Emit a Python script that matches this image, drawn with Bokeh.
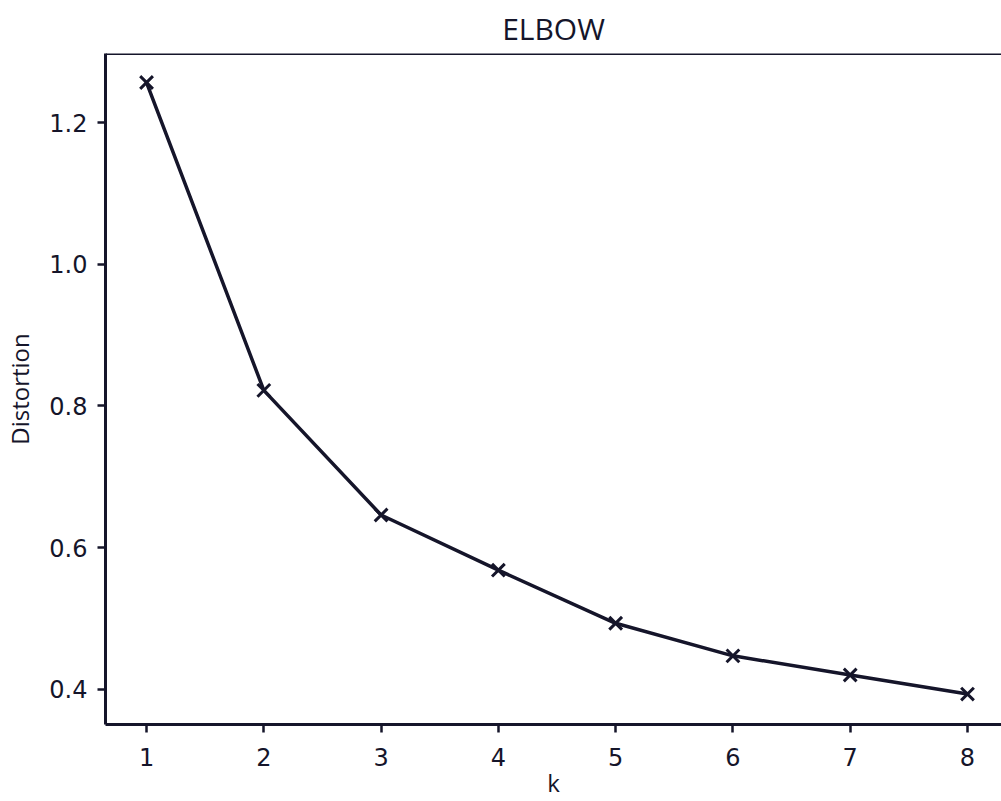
from bokeh.plotting import figure
from bokeh.models import Range1d, Span, FixedTicker, CustomJSTickFormatter
from bokeh.embed import file_html
from bokeh.resources import INLINE

k_values = [1, 2, 3, 4, 5, 6, 7, 8]
distortion = [1.257, 0.822, 0.646, 0.568, 0.493, 0.447, 0.420, 0.393]
x_ticks = [1, 2, 3, 4, 5, 6, 7, 8]
y_ticks = [0.4, 0.6, 0.8, 1.0, 1.2]
title_text = "ELBOW"
x_label = "k"
y_label = "Distortion"

INK = "#15152a"
X0, X1, Y0, Y1 = 0.65, 8.29, 0.350, 1.298

p = figure(width=1001, height=801, output_backend="svg", toolbar_location=None,
           x_range=Range1d(X0, X1), y_range=Range1d(Y0, Y1),
           min_border_left=105, min_border_right=0, min_border_top=53, min_border_bottom=77)
p.title.text = title_text
p.title.align = "center"
p.title.text_font = "Open Sans"
p.title.text_font_style = "normal"
p.title.text_font_size = "30px"
p.title.text_color = INK
p.title.standoff = 10
p.outline_line_color = None
p.grid.visible = False
p.background_fill_color = "white"

p.line(k_values, distortion, line_color=INK, line_width=3.5)
p.scatter(k_values, distortion, marker="x", size=18, line_color=INK, line_width=3)

p.add_layout(Span(location=Y1, dimension="width", line_color=INK, line_width=3))

for ax in (p.xaxis[0], p.yaxis[0]):
    ax.axis_line_color = INK
    ax.axis_line_width = 3
    ax.major_tick_line_color = INK
    ax.major_tick_line_width = 2.5
    ax.major_tick_in = 0
    ax.major_tick_out = 8
    ax.minor_tick_line_color = None
    ax.major_label_text_font = "DejaVu Sans"
    ax.major_label_text_font_size = "24px"
    ax.major_label_text_color = INK
    ax.axis_label_text_font = "Open Sans"
    ax.axis_label_text_font_size = "24px"
    ax.axis_label_text_font_style = "normal"
    ax.axis_label_text_color = INK

p.xaxis.ticker = FixedTicker(ticks=x_ticks)
p.yaxis.ticker = FixedTicker(ticks=y_ticks)
p.yaxis.formatter = CustomJSTickFormatter(code="return tick.toFixed(1);")
p.xaxis.axis_label = x_label
p.yaxis.axis_label = y_label
p.xaxis.major_label_standoff = 15
p.xaxis.axis_label_standoff = -3
p.yaxis.major_label_standoff = 10
p.yaxis.axis_label_standoff = 10

open("out.html", "w").write(file_html(p, INLINE))
